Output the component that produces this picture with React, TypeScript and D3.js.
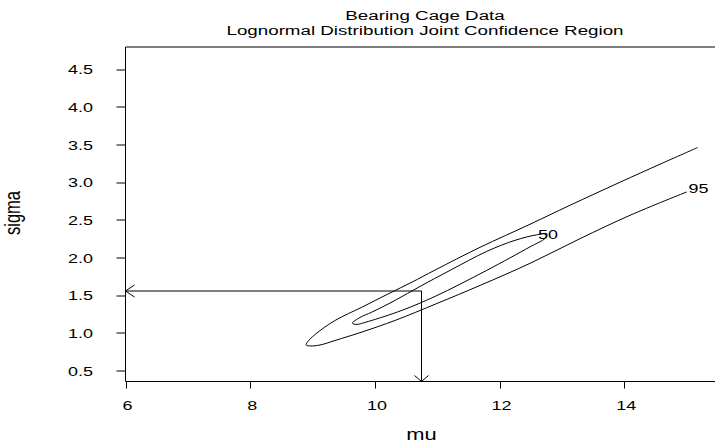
import React from "react";
import * as d3 from "d3";

const titleLines = ["Bearing Cage Data", "Lognormal Distribution Joint Confidence Region"];
const xTicks = [6, 8, 10, 12, 14];
const yTicks = [0.5, 1.0, 1.5, 2.0, 2.5, 3.0, 3.5, 4.0, 4.5];

// 95% contour (open at the upper right): upper branch then lower branch
const c95Mu = [15.177, 14.572, 13.931, 13.129, 12.488, 11.687, 10.965, 10.596, 10.212, 9.795, 9.362, 9.041, 8.913, 8.897, 8.961, 9.121, 9.362, 9.795, 10.324, 10.998, 11.687, 12.488, 13.290, 14.092, 15.0];
const c95Sigma = [3.465, 3.243, 3.004, 2.698, 2.446, 2.140, 1.838, 1.678, 1.521, 1.346, 1.169, 0.983, 0.876, 0.843, 0.830, 0.843, 0.903, 1.016, 1.169, 1.395, 1.634, 1.927, 2.255, 2.565, 2.875];

// 50% contour (closed loop, first point not repeated)
const c50Mu = [9.639, 9.763, 9.950, 10.324, 10.725, 11.206, 11.794, 12.248, 12.596, 12.761, 12.729, 12.488, 11.794, 10.965, 10.431, 9.896, 9.699];
const c50Sigma = [1.133, 1.209, 1.279, 1.435, 1.621, 1.834, 2.086, 2.233, 2.306, 2.319, 2.259, 2.146, 1.834, 1.488, 1.302, 1.156, 1.116];

const contourLabels = ["50", "95"];
const labelMu = [12.777, 15.19];
const labelSigma = [2.31, 2.93];

const estMu = [10.747];
const estSigma = [1.554];

const W = 716;
const H = 448;
const left = 125.5;
const right = 715;
const top = 47;
const bottom = 381.5;
const SX = 1.33;

function SText({ x, y, anchor = "middle", size, children, dy = "0", sx = SX }: any) {
  return (
    <text
      transform={`translate(${x},${y}) scale(${sx},1)`}
      textAnchor={anchor}
      fontSize={size}
      dy={dy}
      fill="#000"
    >
      {children}
    </text>
  );
}

export default function App() {
  const x = d3.scaleLinear().domain([6, 15.455]).range([left, right]);
  const y = d3.scaleLinear().domain([0.358, 4.8]).range([bottom, top]);

  const path95 = d3
    .line<[number, number]>()
    .x((d) => x(d[0]))
    .y((d) => y(d[1]))
    .curve(d3.curveCatmullRom.alpha(0.5))(c95Mu.map((m, i) => [m, c95Sigma[i]]));
  const path50 = d3
    .line<[number, number]>()
    .x((d) => x(d[0]))
    .y((d) => y(d[1]))
    .curve(d3.curveCatmullRomClosed.alpha(0.5))(c50Mu.map((m, i) => [m, c50Sigma[i]]));

  const font = "'Liberation Sans', Arial, Helvetica, sans-serif";
  const ex = Math.round(x(estMu[0])) + 0.5;
  const ey = Math.round(y(estSigma[0]));
  const ax0 = x(6);
  const ay0 = bottom;

  return (
    <svg width={W} height={H} style={{ position: "absolute", left: 0, top: 0, background: "#fff" }} fontFamily={font}>
      <rect x={0} y={0} width={W} height={H} fill="#fff" />
      {titleLines.map((t, i) => (
        <SText key={t} x={425} y={19.5 + i * 15.5} size={13.5} sx={1.39}>
          {t}
        </SText>
      ))}
      {/* frame: top, left, bottom */}
      <line x1={left} x2={right} y1={top} y2={top} stroke="#000" />
      <line x1={left} x2={left} y1={top} y2={bottom} stroke="#000" />
      <line x1={left} x2={right} y1={bottom} y2={bottom} stroke="#000" />
      {yTicks.map((t) => (
        <g key={t}>
          <line x1={left - 9} x2={left} y1={Math.round(y(t))} y2={Math.round(y(t))} stroke="#000" />
          <SText x={93} y={y(t)} dy="0.36em" anchor="end" size={13.5}>
            {t.toFixed(1)}
          </SText>
        </g>
      ))}
      {xTicks.map((t) => (
        <g key={t}>
          <line x1={Math.round(x(t)) + 0.5} x2={Math.round(x(t)) + 0.5} y1={bottom} y2={bottom + 7} stroke="#000" />
          <SText x={x(t) + 2} y={409.5} size={13.5}>
            {t}
          </SText>
        </g>
      ))}
      <SText x={421.5} y={440} size={16.5}>
        mu
      </SText>
      <text transform={`translate(20,213) rotate(-90) scale(1,${SX})`} textAnchor="middle" fontSize={16.5} fill="#000">
        sigma
      </text>
      <path d={path95 || ""} fill="none" stroke="#000" strokeWidth={1} />
      <path d={path50 || ""} fill="none" stroke="#000" strokeWidth={1} />
      {contourLabels.map((l, i) => (
        <SText key={l} x={x(labelMu[i])} y={y(labelSigma[i])} dy="0.36em" size={13.5}>
          {l}
        </SText>
      ))}
      {/* arrows from estimate to axes */}
      <path d={`M${ex},${ey}H${ax0}M${ax0 + 9},${ey - 6}L${ax0},${ey}L${ax0 + 9},${ey + 6}`} fill="none" stroke="#000" />
      <path d={`M${ex},${ey}V${ay0}M${ex - 7},${ay0 - 6}L${ex},${ay0}L${ex + 7},${ay0 - 6}`} fill="none" stroke="#000" />
    </svg>
  );
}
